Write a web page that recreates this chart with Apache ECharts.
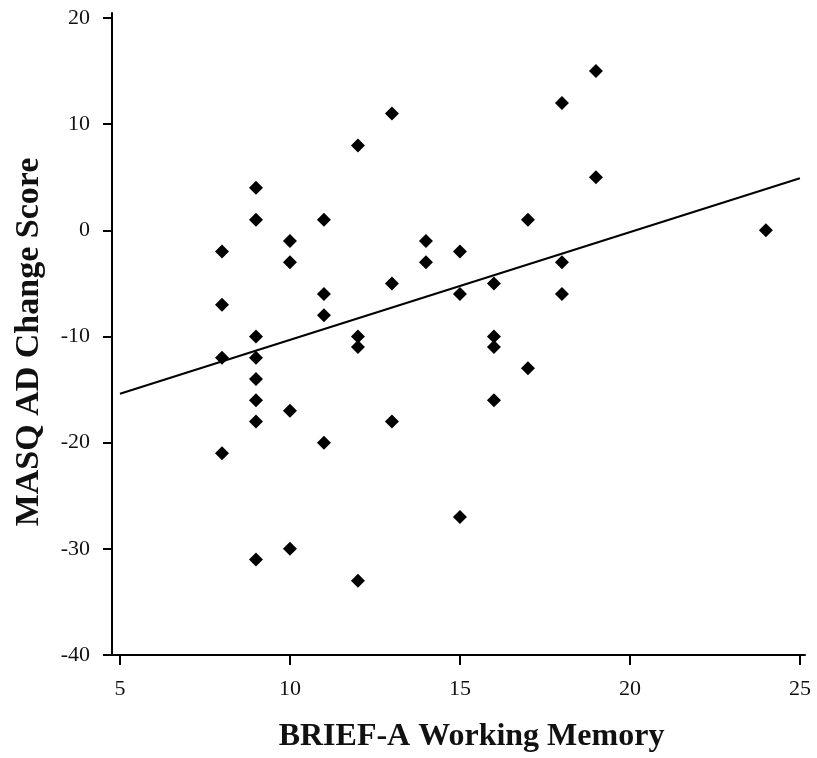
<!DOCTYPE html>
<html>
<head>
<meta charset="utf-8">
<script src="https://cdn.jsdelivr.net/npm/echarts@6/dist/echarts.min.js"></script>
<style>
html,body{margin:0;padding:0;background:#fff;}
#chart{width:817px;height:758px;}
</style>
</head>
<body>
<div id="chart"></div>
<script>
// BRIEF-A Working Memory (x) and MASQ AD Change Score (y)
var pointsX = [8,8,8,8, 9,9,9,9,9,9,9,9, 10,10,10,10, 11,11,11,11, 12,12,12,12, 13,13,13, 14,14, 15,15,15, 16,16,16,16, 17,17, 18,18,18, 19,19, 24];
var pointsY = [-2,-7,-12,-21, 4,1,-10,-12,-14,-16,-18,-31, -1,-3,-17,-30, 1,-6,-8,-20, 8,-10,-11,-33, 11,-5,-18, -1,-3, -2,-6,-27, -5,-10,-11,-16, 1,-13, 12,-3,-6, 15,5, 0];
// fitted regression line end points
var fitX = [5, 25];
var fitY = [-15.4, 4.9];
var xTicks = [5, 10, 15, 20, 25];
var xTitle = 'BRIEF-A Working Memory';
var yTitle = 'MASQ AD Change Score';

var scatterData = pointsX.map(function (x, i) { return [x, pointsY[i]]; });
var lineData = fitX.map(function (x, i) { return [x, fitY[i]]; });

var chart = echarts.init(document.getElementById('chart'), null, {renderer: 'canvas'});
var serif = 'Liberation Serif';
chart.setOption({
  animation: false,
  backgroundColor: '#fff',
  grid: {left: 112, right: 12, top: 13, bottom: 103, containLabel: false},
  xAxis: {
    type: 'value',
    min: 4.765,
    max: 25.15,
    name: xTitle,
    nameLocation: 'middle',
    nameGap: 66,
    nameTextStyle: {fontFamily: serif, fontWeight: 'bold', fontSize: 32, color: '#111', padding: [0, 0, 0, 26]},
    axisLine: {show: true, onZero: false, lineStyle: {color: '#000', width: 2}},
    axisTick: {show: true, length: 10, inside: false, customValues: xTicks, lineStyle: {color: '#000', width: 2}},
    axisLabel: {show: true, margin: 23, customValues: xTicks, fontFamily: serif, fontSize: 22, color: '#111'},
    splitLine: {show: false}
  },
  yAxis: {
    type: 'value',
    min: -40,
    max: 20.47,
    interval: 10,
    name: yTitle,
    nameLocation: 'middle',
    nameGap: 66,
    nameRotate: 90,
    nameTextStyle: {fontFamily: serif, fontWeight: 'bold', fontSize: 34, color: '#111', padding: [0, 16, 0, 0]},
    axisLine: {show: true, onZero: false, lineStyle: {color: '#000', width: 2}},
    axisTick: {show: true, length: 9, inside: false, lineStyle: {color: '#000', width: 2}},
    axisLabel: {show: true, margin: 22, fontFamily: serif, fontSize: 22, color: '#111',
      showMaxLabel: false},
    splitLine: {show: false}
  },
  series: [
    {
      type: 'line',
      data: lineData,
      symbol: 'none',
      lineStyle: {color: '#000', width: 2},
      silent: true,
      z: 2
    },
    {
      type: 'scatter',
      data: scatterData,
      symbol: 'diamond',
      symbolSize: 14,
      itemStyle: {color: '#000', opacity: 1},
      z: 3
    }
  ]
});
</script>
</body>
</html>
